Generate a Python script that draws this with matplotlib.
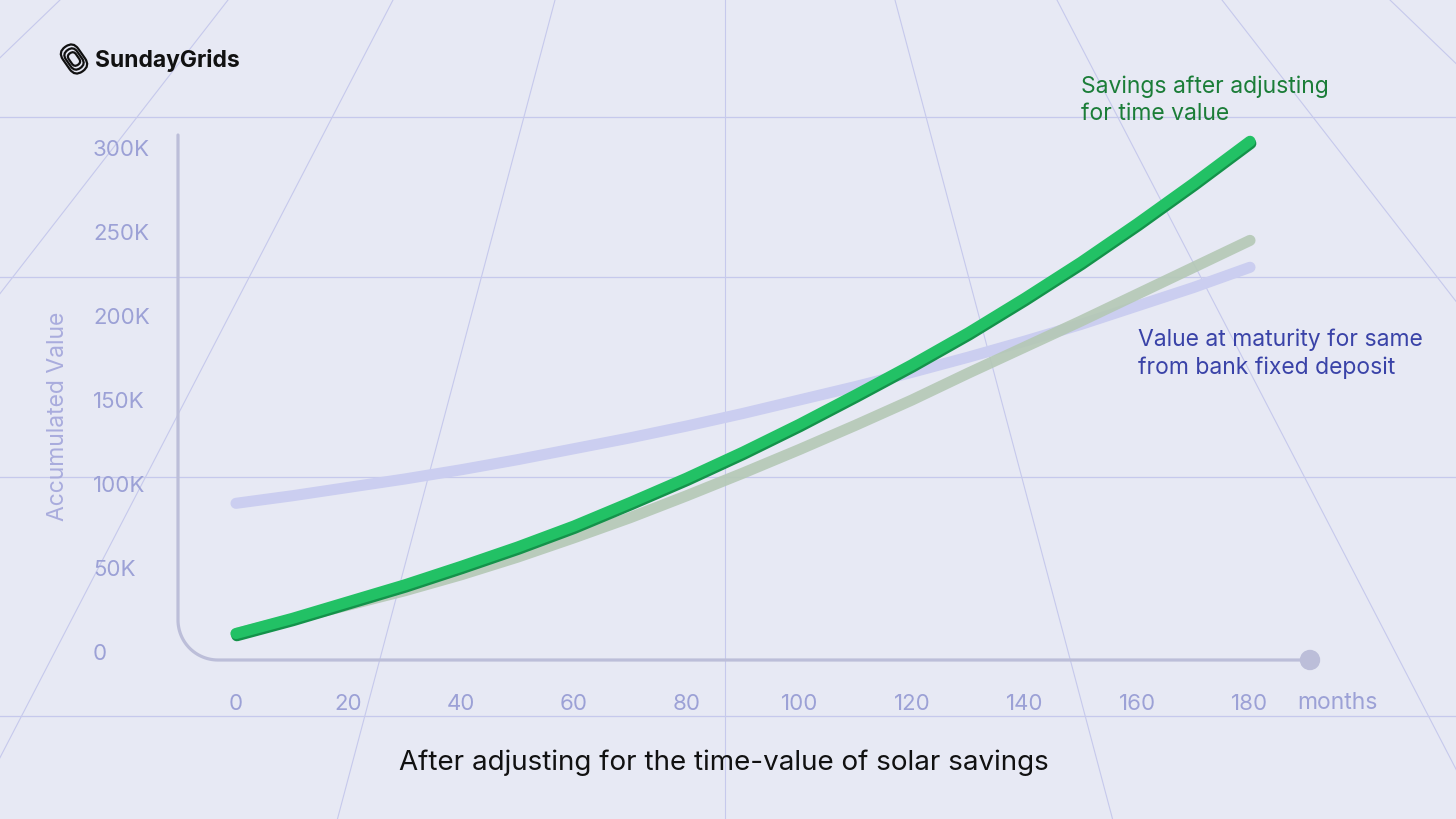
import numpy as np
import matplotlib
matplotlib.use("Agg")
import matplotlib.pyplot as plt
import matplotlib.patheffects as pe
from matplotlib.patches import FancyBboxPatch, Circle
from matplotlib.transforms import Affine2D

plt.rcParams['font.family'] = ['Inter', 'DejaVu Sans']

# data (months, thousands)
months = [0, 10, 20, 30, 40, 50, 60, 70, 80, 90, 100, 110, 120, 130, 140, 150, 160, 170, 180]
savings_adj = [11, 20, 30, 40, 51, 62.5, 75, 89, 103.5, 119, 135.5, 153, 171, 190, 210.5, 232, 255, 279, 304]
savings_raw = [11, 19.5, 28, 36.5, 46, 56.5, 68, 80, 93, 106.5, 120.5, 135, 150, 166, 181.5, 197, 213, 229, 245]
bank_fd = [88.5, 93, 98, 103, 108.5, 114.5, 121, 127.5, 134.5, 142, 150, 158, 166.5, 175.5, 185, 195, 206, 217, 229]

x_ticks = [0, 20, 40, 60, 80, 100, 120, 140, 160, 180]
y_ticks = [0, 50, 100, 150, 200, 250, 300]
y_labels = ['0', '50K', '100K', '150K', '200K', '250K', '300K']

BG = '#e7e9f4'
GRID = '#c6c9ec'
AXC = '#bcbed9'
TICKC = '#9ca1d6'

W, H = 1456, 819
fig = plt.figure(figsize=(W / 100, H / 100), dpi=100, facecolor=BG)

# background with perspective grid, in pixel coords
bg = fig.add_axes([0, 0, 1, 1], zorder=0)
bg.set_xlim(0, W)
bg.set_ylim(H, 0)
bg.axis('off')
bg.set_facecolor(BG)

for yy in [117, 277, 477, 716]:
    bg.plot([0, W], [yy, yy], color=GRID, lw=0.9)
vp = (725, -640)
for off in [-665, -497, -332, -170, 0, 170, 332, 497, 665]:
    x0 = 725 + off
    t = np.array([0, 4])
    xs = vp[0] + (x0 - vp[0]) * t
    ys = vp[1] + (0 - vp[1]) * t
    bg.plot(xs, ys, color=GRID, lw=0.8)

# rounded L axis
r = 40
ang = np.linspace(np.pi, 1.5 * np.pi, 30)
arc_x = 178 + r + r * np.cos(ang)
arc_y = 660 - r - r * np.sin(ang)
ax_x = np.concatenate([[178], arc_x, [1310]])
ax_y = np.concatenate([[135], arc_y, [660]])
bg.plot(ax_x, ax_y, color=AXC, lw=2.3, solid_capstyle='round')
bg.add_patch(Circle((1310, 660), 9.5, color=AXC, zorder=3))

# logo
for s in [30, 22, 14]:
    box = FancyBboxPatch((-s / 2, -s / 3.2), s, s / 1.6,
                         boxstyle="round,pad=0,rounding_size=%f" % (s / 3.3),
                         fill=False, ec='#111111', lw=1.6,
                         transform=Affine2D().rotate_deg(55).translate(74, 59) + bg.transData)
    bg.add_patch(box)
bg.text(95, 60, 'SundayGrids', fontsize=16.5, fontweight='bold', color='#111111',
        ha='left', va='center')

# data axes
ax = fig.add_axes([236 / W, (H - 652) / H, (1250 - 236) / W, (652 - 148) / H], zorder=1)
ax.patch.set_alpha(0)
ax.set_xlim(0, 180)
ax.set_ylim(0, 300)
for sp in ax.spines.values():
    sp.set_visible(False)

ax.plot(months, bank_fd, color='#cbcef0', lw=8, solid_capstyle='round', clip_on=False)
ax.plot(months, savings_raw, color='#b4c8b5', lw=8, solid_capstyle='round', clip_on=False, alpha=0.9)
ax.plot(months, savings_adj, color='#22c165', lw=8, solid_capstyle='round', clip_on=False,
        path_effects=[pe.SimpleLineShadow(offset=(0.6, -1.6), shadow_color='#14924a', alpha=1),
                      pe.Normal()])

ax.set_xticks(x_ticks)
ax.set_xticklabels([str(v) for v in x_ticks])
ax.set_yticks(y_ticks)
ax.set_yticklabels(y_labels)
ax.tick_params(length=0, labelsize=16, labelcolor=TICKC)
ax.tick_params(axis='x', pad=30.5)
ax.tick_params(axis='y', pad=103)
for lab in ax.get_yticklabels():
    lab.set_horizontalalignment('left')

bg.text(1297, 703, 'months', fontsize=16.5, color=TICKC, ha='left', va='center')
bg.text(58, 416, 'Accumulated Value', fontsize=16.5, color='#a9acdd', rotation=90,
        ha='center', va='center')

bg.text(1081, 100, 'Savings after adjusting\nfor time value', fontsize=16.5, color='#1b7d38',
        ha='left', va='center', linespacing=1.3)
bg.text(1138, 354, 'Value at maturity for same\nfrom bank fixed deposit', fontsize=16.5,
        color='#3a43a8', ha='left', va='center', linespacing=1.3)

bg.text(724, 763, 'After adjusting for the time-value of solar savings', fontsize=20,
        color='#111111', ha='center', va='center')

fig.savefig('out.png', dpi=100, facecolor=BG)
